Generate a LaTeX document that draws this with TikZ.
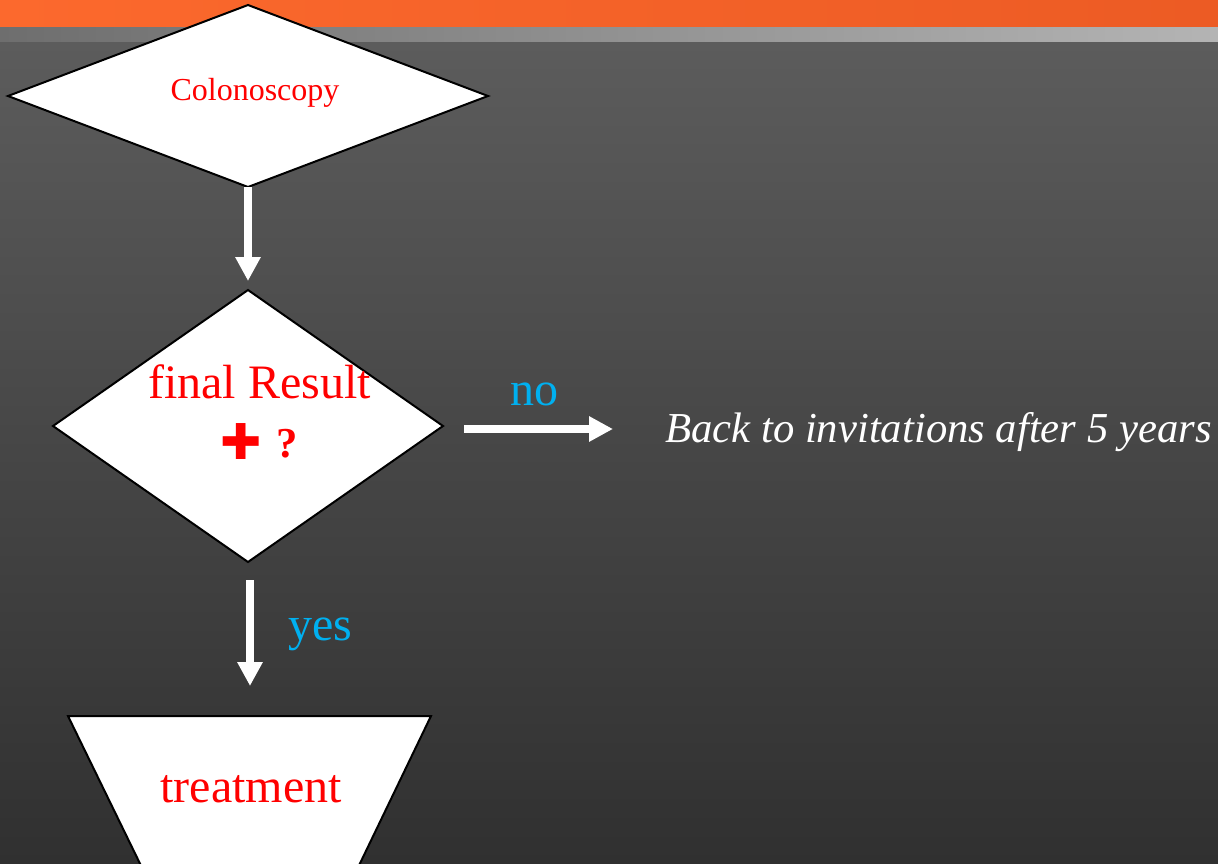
\documentclass[tikz,border=0pt]{standalone}
\usepackage{fontspec}
\setmainfont{Liberation Serif}
\newfontfamily\symfont{DejaVu Sans}
\usetikzlibrary{arrows.meta,shapes.geometric}
\definecolor{orA}{RGB}{252,105,45}
\definecolor{orB}{RGB}{236,91,36}
\definecolor{bandA}{RGB}{110,110,110}
\definecolor{bandB}{RGB}{180,180,180}
\definecolor{bgTop}{RGB}{92,92,92}
\definecolor{bgBot}{RGB}{48,48,48}
\definecolor{lbl}{RGB}{0,176,240}
\tikzset{
  box/.style={draw=black,fill=white,line width=1.5pt,inner sep=0pt,outer sep=0pt},
  flow/.style={draw=white,line width=6pt,-{Triangle[width=18pt,length=18pt]}},
  redtxt/.style={text=red,inner sep=0pt},
  lbltxt/.style={text=lbl,inner sep=0pt,font=\fontsize{36}{40}\selectfont},
}
\begin{document}
\begin{tikzpicture}[x=0.75pt,y=-0.75pt]
\useasboundingbox (0,0) rectangle (1218,864);
\clip (0,0) rectangle (1218,864);
% background
\shade[top color=bgTop,bottom color=bgBot] (0,41) rectangle (1218,864);
\shade[left color=bandA,right color=bandB] (0,26) rectangle (1218,41);
\shade[left color=orA,right color=orB] (0,0) rectangle (1218,26);
% shapes
\node[box,diamond,minimum width=360pt,minimum height=136.5pt] (colo) at (248,96) {};
\node[box,diamond,minimum width=292.5pt,minimum height=204pt] (res) at (248,426) {};
\path[box] (68,716) coordinate (tl) -- (431,716) coordinate (tr) -- (352,880) -- (148,880) -- cycle;
% texts
\node[redtxt,anchor=base,font=\fontsize{24}{28}\selectfont] (tcolo) at (255,100) {Colonoscopy};
\node[redtxt,anchor=base,font=\fontsize{36}{40}\selectfont] (tres) at (259.5,398) {final Result};
\node[redtxt,anchor=base,font=\symfont\fontsize{37}{40}\selectfont] (plus) at (241,459) {✚};
\node[redtxt,anchor=base,font=\bfseries\fontsize{32}{36}\selectfont] (q) at (287,457) {?};
\node[redtxt,anchor=base,font=\fontsize{36}{40}\selectfont] (treat) at (251,802) {treatment};
\node[lbltxt,anchor=base] (no) at (534,405) {no};
\node[lbltxt,anchor=base] (yes) at (320,640) {yes};
\node[text=white,inner sep=0pt,anchor=base west,font=\itshape\fontsize{32}{36}\selectfont] (back) at (665,442) {Back to invitations after 5 years};
% connectors
\coordinate (a1s) at (248,187);
\coordinate (a1e) at (248,281);
\coordinate (a2s) at (464,429);
\coordinate (a2e) at (613,429);
\coordinate (a3s) at (250,580);
\coordinate (a3e) at (250,686);
\draw[flow] (a1s) -- (a1e);
\draw[flow] (a2s) -- (a2e);
\draw[flow] (a3s) -- (a3e);
\end{tikzpicture}
\end{document}
